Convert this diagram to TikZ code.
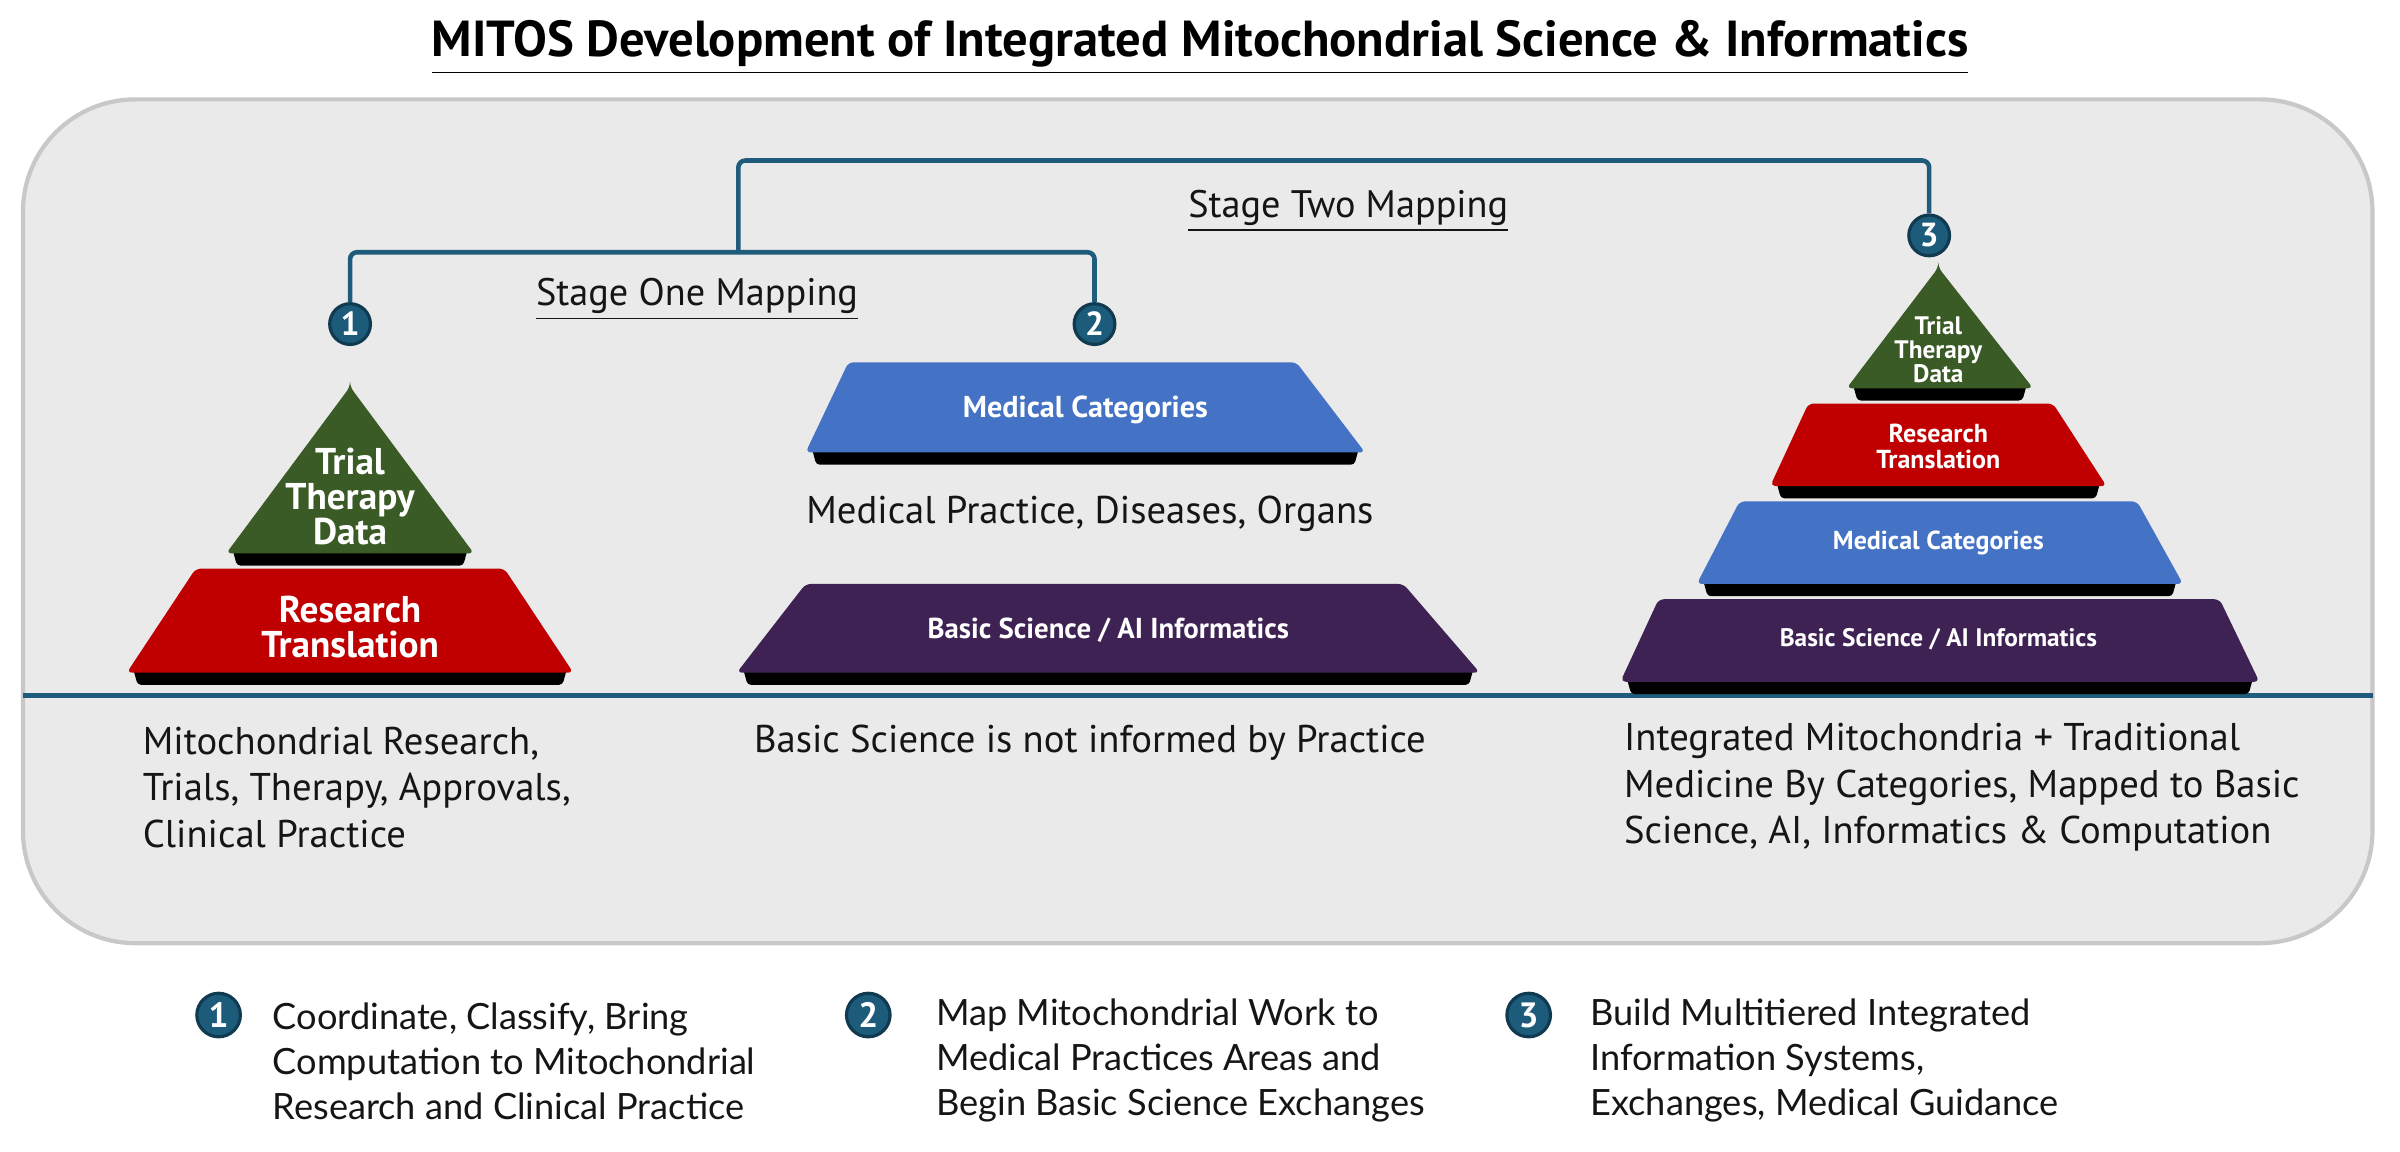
\documentclass[tikz,border=0pt]{standalone}
\usepackage{fontspec}
\setmainfont{PT Sans}
\newfontfamily\legendfont{Lato}
\definecolor{panelfill}{HTML}{EAEAEA}
\definecolor{paneledge}{HTML}{C8C8C8}
\definecolor{linkblue}{HTML}{1F5C7C}
\definecolor{numblue}{HTML}{1D5B7B}
\definecolor{numedge}{HTML}{0F3A50}
\definecolor{tgreen}{HTML}{3A5A26}
\definecolor{tred}{HTML}{C00000}
\definecolor{tblue}{HTML}{4472C4}
\definecolor{tpurple}{HTML}{3E2254}
\definecolor{txt}{HTML}{151515}
\newcommand{\tier}[7]{%
  \fill[black, rounded corners=1pt] (#6+4,#5-3) -- (#7-4,#5-3) -- (#7-7,#5+8) -- (#6+7,#5+8) -- cycle;
  \fill[#1, rounded corners=1.5pt] (#3,#2) -- (#4,#2) -- (#7,#5) -- (#6,#5) -- cycle;}
\tikzset{
  numcirc/.style={circle, fill=numblue, draw=numedge, line width=0.9pt, text=white,
    font=\fontsize{9.5}{9.5}\selectfont\bfseries, minimum size=11.6pt, inner sep=0pt},
  legcirc/.style={numcirc, minimum size=12.4pt, font=\fontsize{10}{10}\selectfont\bfseries},
  conn/.style={draw=linkblue, line width=1.3pt, rounded corners=2pt},
  intext/.style={text=white, align=center, inner sep=0pt},
  desc/.style={text=txt, align=left, inner sep=0pt, font=\fontsize{11}{13.2}\selectfont},
  legtext/.style={text=txt, align=left, inner sep=0pt, anchor=west, font=\legendfont\fontsize{10.3}{12.8}\selectfont},
  stagelbl/.style={text=txt, inner sep=0pt, font=\fontsize{10.9}{12}\selectfont}
}
\begin{document}
\begin{tikzpicture}[x=0.015287cm, y=-0.015287cm]
\useasboundingbox (0,0) rectangle (1570,753);
\fill[white] (0,0) rectangle (1570,753);
% title
\node[inner sep=0pt, text=black, font=\fontsize{14.4}{16}\selectfont\bfseries] (title) at (785,31)
  {\underline{MITOS Development of Integrated Mitochondrial Science \& Informatics}};
% panel
\draw[fill=panelfill, draw=paneledge, line width=1.2pt, rounded corners=32pt] (15,65) rectangle (1552,617);
% ground line
\draw[linkblue, line width=1.4pt] (15,455) -- (1552,455);

% left pyramid
\tier{tgreen}{253}{229}{229}{362}{148}{310}
\tier{tred}{372}{128}{330}{440}{83}{375}
\node[intext, font=\fontsize{10.6}{10}\selectfont\bfseries] (l1) at (229,325) {Trial\\Therapy\\Data};
\node[intext, font=\fontsize{10.6}{10}\selectfont\bfseries] (l2) at (229,410) {Research\\Translation};

% middle
\tier{tblue}{237}{555}{848}{296}{527}{893}
\tier{tpurple}{382}{527}{918}{440}{482}{968}
\node[intext, font=\fontsize{8.6}{10}\selectfont\bfseries] (m1) at (710,268) {Medical Categories};
\node[intext, font=\fontsize{8.2}{10}\selectfont\bfseries] (m2) at (725,412) {Basic Science / AI Informatics};
\node[desc, align=center] (mtxt) at (713,336) {Medical Practice, Diseases, Organs};

% right pyramid
\tier{tgreen}{175}{1268}{1268}{254}{1208}{1330}
\tier{tred}{264}{1183}{1343}{318}{1158}{1378}
\tier{tblue}{328}{1138}{1398}{382}{1110}{1428}
\tier{tpurple}{392}{1085}{1452}{446}{1060}{1478}
\node[intext, font=\fontsize{7.2}{6.8}\selectfont\bfseries] (r1) at (1268,229) {Trial\\Therapy\\Data};
\node[intext, font=\fontsize{7.4}{7.4}\selectfont\bfseries] (r2) at (1268,292) {Research\\Translation};
\node[intext, font=\fontsize{7.4}{9}\selectfont\bfseries] (r3) at (1268,355) {Medical Categories};
\node[intext, font=\fontsize{7.2}{9}\selectfont\bfseries] (r4) at (1268,418) {Basic Science / AI Informatics};

% descriptions
\node[desc, anchor=west] (d1) at (93,515) {Mitochondrial Research,\\Trials, Therapy, Approvals,\\Clinical Practice};
\node[desc, align=center] (d2) at (713,486) {Basic Science is not informed by Practice};
\node[desc, anchor=west] (d3) at (1062,515) {Integrated Mitochondria + Traditional\\Medicine By Categories, Mapped to Basic\\Science, AI, Informatics \& Computation};

% numbered markers and connectors
\node[numcirc] (c1) at (229,212) {1};
\node[numcirc] (c2) at (716,212) {2};
\node[numcirc] (c3) at (1262,154) {3};
\coordinate (bj) at (483,165);
\coordinate (tj) at (483,105);
\draw[conn] (c1.north) |- (bj) -| (c2.north);
\draw[conn] (bj) -- (tj) -| (c3.north);
\node[stagelbl] (s1) at (456,196) {\underline{Stage One Mapping}};
\node[stagelbl] (s2) at (882,138) {\underline{Stage Two Mapping}};

% legend
\node[legcirc] (k1) at (143,664) {1};
\node[legcirc] (k2) at (568,664) {2};
\node[legcirc] (k3) at (1000,664) {3};
\node[legtext] (k1t) at (178,694) {Coordinate, Classify, Bring\\Computation to Mitochondrial\\Research and Clinical Practice};
\node[legtext] (k2t) at (612,694) {Map Mitochondrial Work to\\Medical Practices Areas and\\Begin Basic Science Exchanges};
\node[legtext] (k3t) at (1040,694) {Build Multitiered Integrated\\Information Systems,\\Exchanges, Medical Guidance};
\end{tikzpicture}
\end{document}
